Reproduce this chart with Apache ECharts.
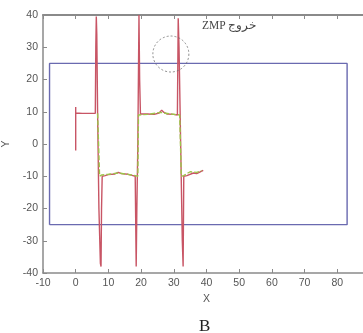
<!DOCTYPE html>
<html>
<head>
<meta charset="utf-8">
<script src="https://cdn.jsdelivr.net/npm/echarts@6/dist/echarts.min.js"></script>
<style>html,body{margin:0;padding:0;background:#fff;}#c{width:363px;height:333px;}</style>
</head>
<body>
<div id="c"></div>
<script>
// Support polygon (blue rectangle)
const supportX = [-8, -8, 83, 83, -8];
const supportY = [-25, 25, 25, -25, -25];
// ZMP reference (green dashed)
const refX = [6.7, 7.3, 8, 10, 13, 16, 18.3, 19.0, 19.2, 22, 26, 29, 31.8, 32.3, 33, 35, 37, 38.5];
const refY = [9.5, -10, -9.6, -9.4, -9.0, -9.4, -9.8, -10, 9, 9.2, 9.8, 9.3, 9.0, -10, -9.8, -8.6, -8.8, -8.3];
// Measured ZMP (red)
const zmpX = [0, 0, 0, 2, 4, 6, 6.15, 6.3, 6.45, 6.7, 7.1, 7.55, 7.75, 7.9, 8.1, 9, 10, 12, 13, 14, 16, 17.5, 18.2, 18.5, 18.7, 19.0, 19.35, 19.55, 19.8, 22, 24, 25.5, 26.3, 27, 28, 30, 31.1, 31.35, 31.6, 32.1, 32.6, 32.85, 33.05, 34, 36, 37, 39];
const zmpY = [-2, 11.5, 9.6, 9.5, 9.5, 9.5, 30, 39.5, 34, 9.5, -20, -37, -38, -20, -10, -9.8, -9.5, -9.3, -8.8, -9.2, -9.4, -9.8, -10, -38, -20, 0, 40, 20, 9.3, 9.3, 9.2, 9.6, 10.5, 9.8, 9.3, 9.2, 9.0, 39, 30, 0, -30, -38, -10, -9.8, -9.0, -9.2, -8.2];
// Annotation
const circleCenter = [29.1, 27.9];
const noteText = 'ZMP خروج';
const notePos = [38.6, 36.6];
const xTicks = {min: -10, max: 90, interval: 10};
const yTicks = {min: -40, max: 40, interval: 10};

const zip = (a, b) => a.map((v, i) => [v, b[i]]);
const axisGray = '#8a8a8a';
const labelStyle = {color: '#555', fontSize: 10.5, fontFamily: 'Liberation Sans, Arial, sans-serif'};

const chart = echarts.init(document.getElementById('c'), null, {renderer: 'canvas'});
chart.setOption({
  animation: false,
  backgroundColor: '#fff',
  grid: {left: 43, top: 15, width: 327, height: 258, containLabel: false, outerBoundsMode: 'none'},
  graphic: [
    {type: 'text', left: 199, top: 318, style: {text: 'B', fontSize: 17, fontFamily: 'Liberation Serif, Times New Roman, serif', fill: '#222'}}
  ],
  xAxis: [
    {type: 'value', position: 'bottom', min: xTicks.min, max: xTicks.max, interval: xTicks.interval,
     name: 'X', nameLocation: 'middle', nameGap: 16, nameTextStyle: {color: '#555', fontSize: 10.5, fontFamily: 'Liberation Sans, Arial, sans-serif'},
     axisLine: {show: true, onZero: false, lineStyle: {color: axisGray, width: 1.5}},
     axisTick: {show: true, inside: true, length: 4, lineStyle: {color: axisGray}},
     axisLabel: Object.assign({margin: 5}, labelStyle),
     splitLine: {show: false}},
    {type: 'value', position: 'top', min: xTicks.min, max: xTicks.max, interval: xTicks.interval,
     axisLine: {show: true, onZero: false, lineStyle: {color: axisGray, width: 2}},
     axisTick: {show: true, inside: true, length: 4, lineStyle: {color: axisGray}},
     axisLabel: {show: false}, splitLine: {show: false}}
  ],
  yAxis: [
    {type: 'value', position: 'left', min: yTicks.min, max: yTicks.max, interval: yTicks.interval,
     name: 'Y', nameLocation: 'middle', nameGap: 29, nameRotate: 90, nameTextStyle: {color: '#555', fontSize: 10.5, fontFamily: 'Liberation Sans, Arial, sans-serif'},
     axisLine: {show: true, onZero: false, lineStyle: {color: axisGray, width: 1.5}},
     axisTick: {show: true, inside: true, length: 4, lineStyle: {color: axisGray}},
     axisLabel: Object.assign({margin: 5}, labelStyle),
     splitLine: {show: false}}
  ],
  series: [
    {type: 'line', data: zip(supportX, supportY), symbol: 'none', lineStyle: {color: '#6a6ab0', width: 1.4}, z: 1},
    {type: 'line', data: zip(zmpX, zmpY), symbol: 'none', lineStyle: {color: '#c85565', width: 1.4}, z: 2},
    {type: 'line', data: zip(refX, refY), symbol: 'none', lineStyle: {color: '#9cc44a', width: 1.4, type: [5, 2]}, z: 3},
    {type: 'scatter', data: [circleCenter], symbol: 'circle', symbolSize: 36, silent: true,
     itemStyle: {color: 'rgba(0,0,0,0)', borderColor: '#666', borderWidth: 0.9, borderType: [2, 2]}, z: 4},
    {type: 'scatter', data: [notePos], symbolSize: 0, silent: true,
     label: {show: true, position: 'right', distance: 0, formatter: noteText, color: '#111', fontSize: 11.5, fontFamily: 'Liberation Serif, Times New Roman, serif'}, z: 5}
  ]
});
</script>
</body>
</html>
